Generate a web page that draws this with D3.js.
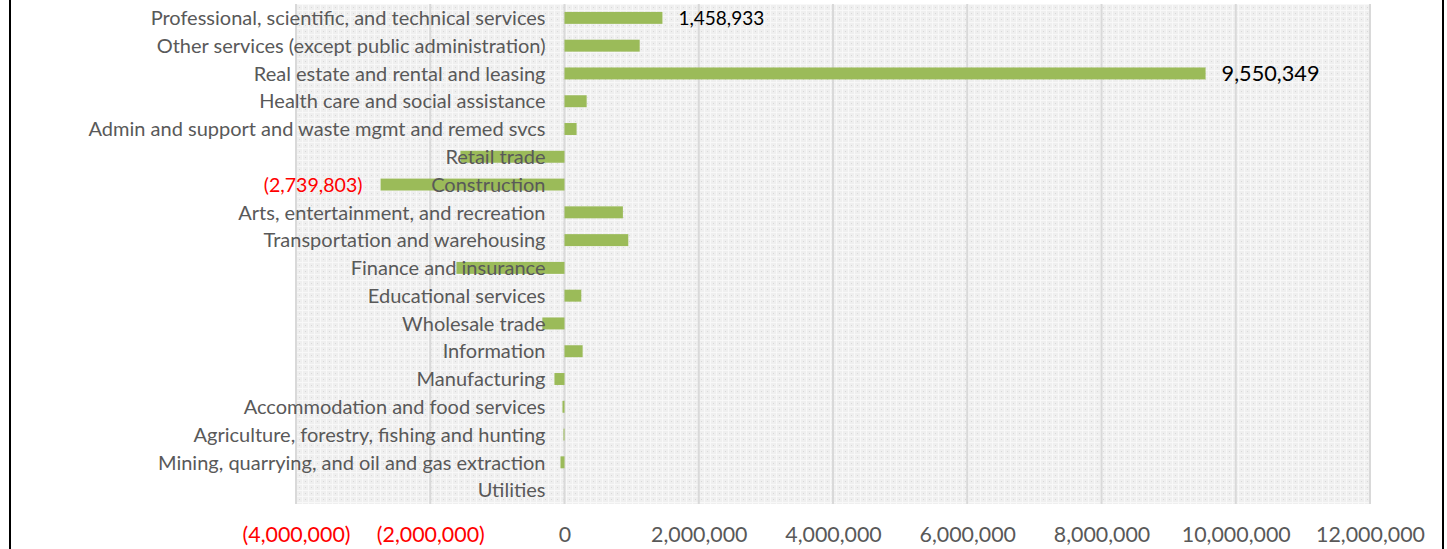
<!DOCTYPE html>
<html>
<head>
<meta charset="utf-8">
<script src="https://cdn.jsdelivr.net/npm/d3@7"></script>
<style>
	body { margin: 0; background: #fff; }
	svg { display: block; font-family: Lato, "Open Sans", sans-serif; }
	.cat { fill: #595959; }
	.tick-label { fill: #595959; }
	.neg { fill: #ff0000; }
	.grid { stroke: #d9d9d9; stroke-width: 2; }
	.bar { fill: #9bbb59; }
</style>
</head>
<body>
<div id="chart"></div>
<script>
var categories = [
	"Professional, scientific, and technical services",
	"Other services (except public administration)",
	"Real estate and rental and leasing",
	"Health care and social assistance",
	"Admin and support and waste mgmt and remed svcs",
	"Retail trade",
	"Construction",
	"Arts, entertainment, and recreation",
	"Transportation and warehousing",
	"Finance and insurance",
	"Educational services",
	"Wholesale trade",
	"Information",
	"Manufacturing",
	"Accommodation and food services",
	"Agriculture, forestry, fishing and hunting",
	"Mining, quarrying, and oil and gas extraction",
	"Utilities"
];

var values = [
	1458933, 1120000, 9550349, 330000, 180000,
	-1550000, -2739803, 870000, 950000, -1610000,
	250000, -330000, 270000, -150000, -30000,
	-15000, -60000, 0
];

// only these bars carry a value label
var labelled = [
	"Professional, scientific, and technical services",
	"Real estate and rental and leasing",
	"Construction"
];

var tickValues = [-4000000, -2000000, 0, 2000000, 4000000, 6000000, 8000000, 10000000, 12000000];

function bars() {
	var margin = {top: 4, right: 77, bottom: 45, left: 296},
		width = 1447,
		height = 549;

	function chart(selection) {
		selection.each(function() {
			var innerW = width - margin.left - margin.right,
				innerH = height - margin.top - margin.bottom;

			var fmt = d3.format(",");
			var money = function(v) {
				return v < 0 ? "(" + fmt(-v) + ")" : fmt(v);
			};

			var x = d3.scaleLinear()
				.domain([-4000000, 12000000])
				.range([0, innerW]);

			var y = d3.scaleBand()
				.domain(categories)
				.range([0, innerH])
				.paddingInner(0.57)
				.paddingOuter(0.285);

			var svg = d3.select(this)
				.append("svg")
				.attr("width", width)
				.attr("height", height);

			// the frame lines at the page edges
			svg.append("rect")
				.attr("x", 9).attr("y", -2)
				.attr("width", 2).attr("height", height + 4)
				.attr("fill", "#000");
			svg.append("rect")
				.attr("x", 1442).attr("y", -2)
				.attr("width", 2).attr("height", height + 4)
				.attr("fill", "#000");

			var defs = svg.append("defs");
			var pat = defs.append("pattern")
				.attr("id", "dots")
				.attr("width", 6).attr("height", 6)
				.attr("patternUnits", "userSpaceOnUse");
			pat.append("rect").attr("width", 6).attr("height", 6).attr("fill", "#efefef");
			pat.append("rect").attr("x", 0).attr("y", 0).attr("width", 6).attr("height", 1).attr("fill", "#f8f8f8");
			pat.append("rect").attr("x", 0).attr("y", 0).attr("width", 1).attr("height", 6).attr("fill", "#f8f8f8");
			pat.append("rect").attr("x", 3).attr("y", 3).attr("width", 1).attr("height", 1).attr("fill", "#d8d8d8");

			var g = svg.append("g")
				.attr("transform", "translate(" + margin.left + "," + margin.top + ")");

			g.append("rect")
				.attr("width", innerW)
				.attr("height", innerH)
				.attr("fill", "url(#dots)");

			g.selectAll("line.grid")
				.data(tickValues)
				.enter()
				.append("line")
				.attr("class", "grid")
				.attr("x1", function(d) { return x(d); })
				.attr("x2", function(d) { return x(d); })
				.attr("y1", 0)
				.attr("y2", innerH);

			g.selectAll("rect.bar")
				.data(values)
				.enter()
				.append("rect")
				.attr("class", "bar")
				.attr("x", function(d) { return x(Math.min(0, d)); })
				.attr("y", function(d, i) { return y(categories[i]); })
				.attr("width", function(d) { return Math.abs(x(d) - x(0)); })
				.attr("height", y.bandwidth());

			// category names sit on top of the bars, left of zero
			g.selectAll("text.cat")
				.data(categories)
				.enter()
				.append("text")
				.attr("class", "cat")
				.attr("x", x(0) - 19)
				.attr("y", function(d) { return y(d) + y.bandwidth() / 2; })
				.attr("dy", "0.36em")
				.attr("text-anchor", "end")
				.style("font-size", "20px")
				.text(function(d) { return d; });

			var lab = values.filter(function(d, i) { return labelled.indexOf(categories[i]) > -1; });
			var labCats = categories.filter(function(d) { return labelled.indexOf(d) > -1; });

			g.selectAll("text.val")
				.data(lab)
				.enter()
				.append("text")
				.attr("class", function(d) { return d < 0 ? "val neg" : "val"; })
				.attr("x", function(d) { return d < 0 ? x(d) - 18 : x(d) + 16; })
				.attr("y", function(d, i) { return y(labCats[i]) + y.bandwidth() / 2; })
				.attr("dy", "0.36em")
				.attr("text-anchor", function(d) { return d < 0 ? "end" : "start"; })
				.style("fill", function(d) { return d < 0 ? "#ff0000" : "#000"; })
				.style("font-size", function(d) {
					if (d > 5000000) return "21.7px";
					return d < 0 ? "19.6px" : "19px";
				})
				.text(function(d) { return money(d); });

			var axis = d3.axisBottom(x)
				.tickValues(tickValues)
				.tickSize(0)
				.tickPadding(0)
				.tickFormat(money);

			var ax = g.append("g")
				.attr("transform", "translate(0," + (innerH + 30) + ")")
				.call(axis);
			ax.select(".domain").remove();
			ax.selectAll("text")
				.attr("class", function(d) { return d < 0 ? "tick-label neg" : "tick-label"; })
				.attr("fill", null)
				.attr("dy", "0.36em")
				.style("font-size", "21.4px")
				.style("font-family", "Lato, 'Open Sans', sans-serif");
		});
	}

	chart.margin = function(_) {
		if (!arguments.length) return margin;
		margin = _;
		return chart;
	}

	chart.width = function(_) {
		if (!arguments.length) return width;
		width = _;
		return chart;
	}

	chart.height = function(_) {
		if (!arguments.length) return height;
		height = _;
		return chart;
	}

	return chart;
}

d3.select("#chart").call(bars());
</script>
</body>
</html>
